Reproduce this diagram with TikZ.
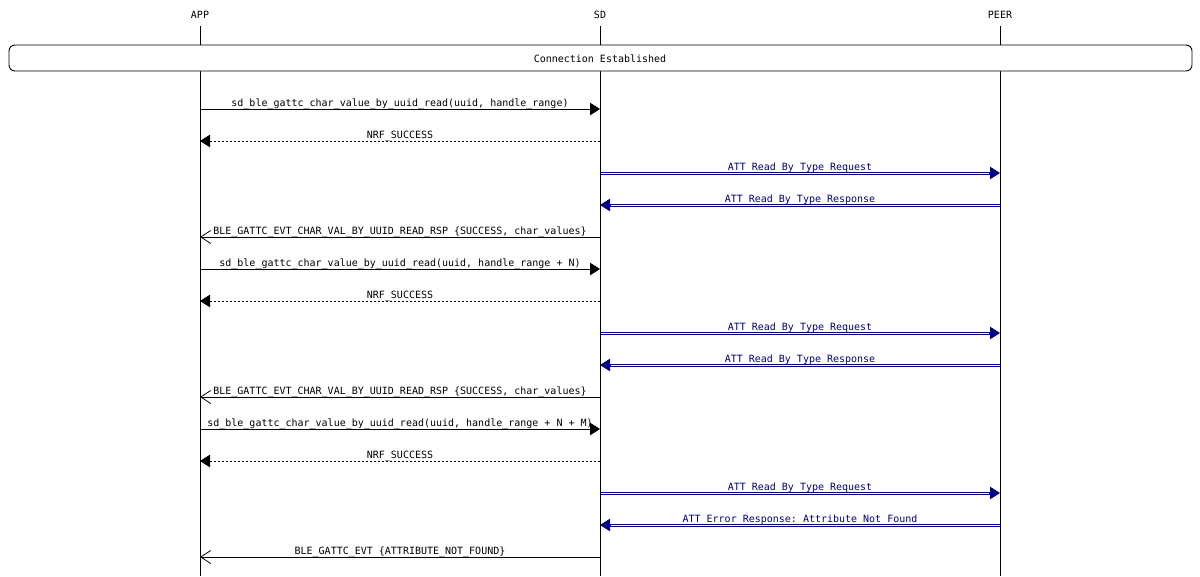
\documentclass[tikz,border=0pt]{standalone}
\usepackage{fontspec}
\setmonofont{DejaVu Sans Mono}
\usepackage{tikz}
\usetikzlibrary{arrows.meta,calc}

\definecolor{attblue}{RGB}{0,0,128}

\tikzset{
  msg/.style={line width=0.9pt},
  call/.style={msg, -{Triangle[length=10pt,width=12.5pt]}},
  ret/.style={msg, dash pattern=on 2pt off 2pt, -{Triangle[length=10pt,width=12.5pt]}},
  evt/.style={msg, -{Straight Barb[length=10pt,width=13pt,line width=0.8pt]}},
  attline/.style={draw=attblue, text=attblue, line width=0.8pt, shorten >=9pt},
  atttip/.style={draw=attblue, fill=attblue, line width=0.8pt, -{Triangle[length=10pt,width=12.5pt]}},
  lbl/.style={midway, anchor=base, yshift=2.8pt, inner sep=0pt},
  actor/.style={inner sep=0pt},
}

% double blue message between two lifeline points: from, to, label
\newcommand{\attmsg}[3]{%
  \draw[attline] ([yshift=1pt]#1) -- node[lbl, yshift=-1.3pt] {#3} ([yshift=1pt]#2);
  \draw[attline] ([yshift=-1pt]#1) -- ([yshift=-1pt]#2);
  \draw[atttip] ($(#2)!11pt!(#1)$) -- (#2);
}

\begin{document}
\begin{tikzpicture}[x=1pt, y=-1pt, font=\ttfamily\fontsize{10}{12}\selectfont]
    \useasboundingbox (0,0) rectangle (1200,576);

    % Actors
    \node[actor] (app) at (200,14.5) {APP};
    \node[actor] (sd) at (600,14.5) {SD};
    \node[actor] (peer) at (1000,14.5) {PEER};

    % Lifelines
    \coordinate (append) at (200,576);
    \coordinate (sdend) at (600,576);
    \coordinate (peerend) at (1000,576);
    \draw[msg] (200,26) -- (append);
    \draw[msg] (600,26) -- (sdend);
    \draw[msg] (1000,26) -- (peerend);

    % Connection box
    \node[draw, msg, fill=white, rounded corners=6pt, minimum width=1183pt, minimum height=26pt] (conn) at (600.5,58) {};
    \node (connlbl) at (600,59.2) {Connection Established};

    % Message points on the lifelines
    \foreach \i in {1,...,15} {
        \pgfmathsetmacro\yy{109+32*(\i-1)}
        \coordinate (a\i) at (200,\yy);
        \coordinate (s\i) at (600,\yy);
        \coordinate (p\i) at (1000,\yy);
    }

    % First read
    \draw[call] (a1) -- node[lbl] {sd\_ble\_gattc\_char\_value\_by\_uuid\_read(uuid, handle\_range)} (s1);
    \draw[ret] (s2) -- node[lbl] {NRF\_SUCCESS} (a2);
    \attmsg{s3}{p3}{ATT Read By Type Request}
    \attmsg{p4}{s4}{ATT Read By Type Response}
    \draw[evt] (s5) -- node[lbl] {BLE\_GATTC\_EVT\_CHAR\_VAL\_BY\_UUID\_READ\_RSP \{SUCCESS, char\_values\}} (a5);

    % Second read
    \draw[call] (a6) -- node[lbl] {sd\_ble\_gattc\_char\_value\_by\_uuid\_read(uuid, handle\_range + N)} (s6);
    \draw[ret] (s7) -- node[lbl] {NRF\_SUCCESS} (a7);
    \attmsg{s8}{p8}{ATT Read By Type Request}
    \attmsg{p9}{s9}{ATT Read By Type Response}
    \draw[evt] (s10) -- node[lbl] {BLE\_GATTC\_EVT\_CHAR\_VAL\_BY\_UUID\_READ\_RSP \{SUCCESS, char\_values\}} (a10);

    % Last read, nothing left
    \draw[call] (a11) -- node[lbl] {sd\_ble\_gattc\_char\_value\_by\_uuid\_read(uuid, handle\_range + N + M)} (s11);
    \draw[ret] (s12) -- node[lbl] {NRF\_SUCCESS} (a12);
    \attmsg{s13}{p13}{ATT Read By Type Request}
    \attmsg{p14}{s14}{ATT Error Response: Attribute Not Found}
    \draw[evt] (s15) -- node[lbl] {BLE\_GATTC\_EVT \{ATTRIBUTE\_NOT\_FOUND\}} (a15);

\end{tikzpicture}
\end{document}
